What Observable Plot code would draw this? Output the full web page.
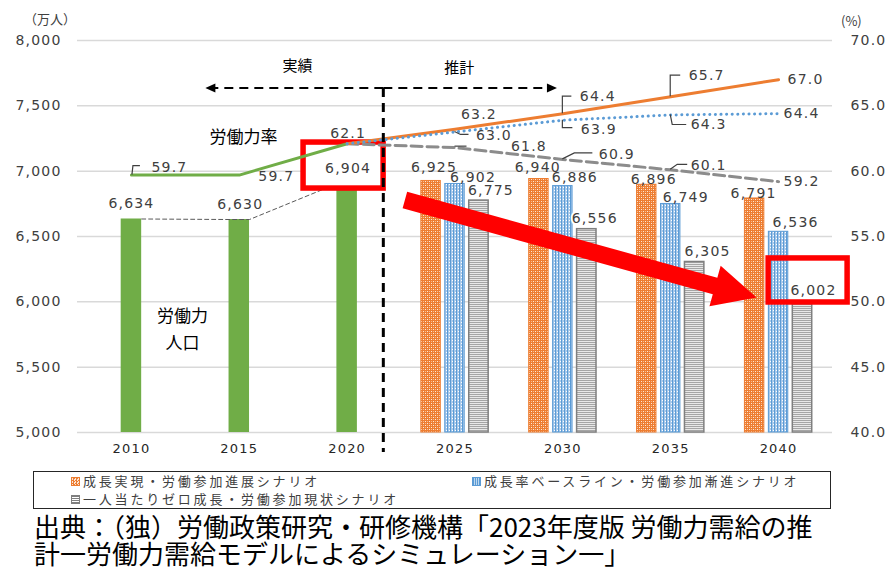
<!DOCTYPE html>
<html><head><meta charset="utf-8">
<script src="https://cdn.jsdelivr.net/npm/d3@7"></script>
<script src="https://cdn.jsdelivr.net/npm/@observablehq/plot@0.6"></script>
<style>
body{margin:0;width:888px;height:568px;position:relative;overflow:hidden;background:#fff;font-family:"Noto Sans CJK JP",sans-serif;}
#topbar{position:absolute;left:11px;top:0;width:439px;height:6px;background:#00703c;}
#chart{position:absolute;left:0;top:0;}
#chart svg .num text, #chart svg text.num{letter-spacing:1.2px}
.unit{position:absolute;font-size:13px;color:#404040;line-height:16px;}
#legend{position:absolute;left:33px;top:471px;width:798px;height:38px;border:1px solid #262626;box-sizing:border-box;font-size:13px;color:#404040;}
#legend .it{position:absolute;white-space:nowrap;line-height:18px;letter-spacing:2.8px;}
#legend .sw{display:inline-block;width:9px;height:9px;margin-right:3px;vertical-align:0px;box-sizing:border-box;}
#caption{position:absolute;left:34px;top:512px;font-size:26px;line-height:27px;color:#000;white-space:nowrap;}
</style></head>
<body>
<div id="topbar"></div>
<div id="chart"></div>
<div class="unit" style="left:24px;top:11px;">（万人）</div>
<div class="unit" style="left:841px;top:13px;">(%)</div>
<div id="legend">
  <div class="it" style="left:37px;top:0px;"><span class="sw" style="background:repeating-conic-gradient(#ed7d31 0 25%,#fbe5d6 0 50%) 0 0/3px 3px;border:1px solid #ed7d31"></span>成長実現・労働参加進展シナリオ</div>
  <div class="it" style="left:438px;top:0px;"><span class="sw" style="background:repeating-linear-gradient(90deg,#5b9bd5 0 1px,#bdd7ee 1px 2px);border:1px solid #5b9bd5"></span>成長率ベースライン・労働参加漸進シナリオ</div>
  <div class="it" style="left:37px;top:18px;"><span class="sw" style="background:repeating-linear-gradient(0deg,#7f7f7f 0 1px,#fff 1px 2px);border:1px solid #7f7f7f"></span>一人当たりゼロ成長・労働参加現状シナリオ</div>
</div>
<div id="caption">出典：（独）労働政策研究・研修機構「2023年度版 労働力需給の推<br>計一労働力需給モデルによるシミュレーション一」</div>
<script>
// ---- data ----
const histYears = [2010, 2015, 2020];
const histPop = [6634, 6630, 6904];
const projYears = [2025, 2030, 2035, 2040];
const popGrowth = [6925, 6940, 6896, 6791];
const popBase = [6902, 6886, 6749, 6536];
const popZero = [6775, 6556, 6305, 6002];
const rateHist = [59.7, 59.7, 62.1];
const rateYears = [2020, 2025, 2030, 2035, 2040];
const rateGrowth = [62.1, 63.2, 64.4, 65.7, 67.0];
const rateBase = [62.1, 63.0, 63.9, 64.3, 64.4];
const rateZero = [62.1, 61.8, 60.9, 60.1, 59.2];
const xTicks = [2010, 2015, 2020, 2025, 2030, 2035, 2040];
const leftTicks = [5000, 5500, 6000, 6500, 7000, 7500, 8000];
const rightTicks = [40, 45, 50, 55, 60, 65, 70];

// ---- layout helpers ----
const yMin = 5000, yMax = 8000, pMin = 40;
const toLeft = p => yMin + (p - pMin) * 100; // secondary axis mapping (40–70% ↔ 5000–8000)
const sp = 1.11, wHist = 0.95, wProj = 0.9;
const fmt = d3.format(",");

const histRows = histYears.map((yr, i) => ({year: yr, off: 0, value: histPop[i]}));
const growthRows = projYears.map((yr, i) => ({year: yr, off: -1, value: popGrowth[i]}));
const baseRows = projYears.map((yr, i) => ({year: yr, off: 0, value: popBase[i]}));
const zeroRows = projYears.map((yr, i) => ({year: yr, off: 1, value: popZero[i]}));

// bar label offsets (px)
const histLabelDx = [0, 1, 1], histLabelDy = [-15, -15, -15];
const growthDx = [3, -1, 7, -1], growthDy = [-13, -11, -5, -5];
const baseDx = [18, 12, 15, 17], baseDy = [-6, -9, -6, -9];
const zeroDx = [12, 8, 13, 11], zeroDy = [-10, -11, -10, -11];

const rateHistRows = histYears.map((yr, i) => ({year: yr, v: rateHist[i]}));
const mk = arr => rateYears.map((yr, i) => ({year: yr, v: arr[i]}));
const growthLine = mk(rateGrowth), baseLine = mk(rateBase), zeroLine = mk(rateZero);

// rate label placement: [rows, index, dx, dy, anchor]
const rateLabels = [
  [rateHistRows, 0, 20, -8, "start"],
  [rateHistRows, 1, 19, 1, "start"],
  [rateHistRows, 2, 1, -10, "middle"],
  [growthLine, 1, 6, -15, "start"],
  [growthLine, 2, 17, -17, "start"],
  [growthLine, 3, 18, -21, "start"],
  [growthLine, 4, 9, 0, "start"],
  [baseLine, 1, 21, 4, "start"],
  [baseLine, 2, 18, 9, "start"],
  [baseLine, 3, 20, 10, "start"],
  [baseLine, 4, 5, 0, "start"],
  [zeroLine, 1, 56, -1, "start"],
  [zeroLine, 2, 36, -5, "start"],
  [zeroLine, 3, 20, -4, "start"],
  [zeroLine, 4, 5, 0, "start"]
];
const leaders = [
  [rateHistRows, 0, [[1,0],[2,-9],[9,-9]]],
  [growthLine, 2, [[0,0],[0,-17],[9,-17]]],
  [growthLine, 3, [[0,0],[0,-21],[10,-21]]],
  [baseLine, 1, [[0,0],[6,3],[14,3]]],
  [baseLine, 2, [[0,0],[0,8],[10,8]]],
  [baseLine, 3, [[0,0],[2,10],[16,10]]],
  [zeroLine, 1, [[0,-1],[12,-1]]],
  [zeroLine, 2, [[0,0],[12,-6],[30,-6]]],
  [zeroLine, 3, [[0,0],[7,-5],[17,-5]]]
];

// annotations (data units)
const periodDivider = 2021.7, periodArrowY = 7632, actualEnd = 2013.45, projEnd = 2029.75;
const periodTexts = [{x: 2017.7, y: 7800, t: "実績"}, {x: 2025.2, y: 7790, t: "推計"}];
const boxes = [
  {x1: 2017.98, x2: 2021.69, y1: 6867, y2: 7219, fill: "white"},
  {x1: 2039.54, x2: 2043.2, y1: 5995, y2: 6332, fill: "none"}
];
const bigArrow = {x1: 2022.7, y1: 6775, x2: 2039.0, y2: 6030};
const rateTitle = {x: 2015.2, y: 7258, t: "労働力率"};
const popTitle = {x: 2012.37, y: 5811, t: "労働力\n人口"};

const numStyle = {fontFamily: "DejaVu Sans", fontSize: 14, fill: "#404040"};

function rectMark(rows, w, fill, stroke, sw) {
  return Plot.rect(rows, {
    x1: d => d.year + d.off * sp - w / 2,
    x2: d => d.year + d.off * sp + w / 2,
    y1: () => yMin, y2: "value", fill, stroke, strokeWidth: sw
  });
}
function barLabels(rows, dxs, dys, extra = {}) {
  return rows.map((d, i) => Plot.text([d], {
    x: d => d.year + d.off * sp, y: "value", text: d => fmt(d.value),
    dx: dxs[i], dy: dys[i], ...numStyle, className: "num", ...extra
  }));
}

const boxesMark = (index, {x, y}) => {
  const g = d3.create("svg:g");
  for (const b of boxes) {
    g.append("rect").attr("x", x(b.x1)).attr("y", y(b.y2))
      .attr("width", x(b.x2) - x(b.x1)).attr("height", y(b.y1) - y(b.y2))
      .attr("fill", b.fill).attr("stroke", "#ff0000").attr("stroke-width", 5.5);
  }
  return g.node();
};
const leadersMark = (index, {x, y}) => {
  const g = d3.create("svg:g");
  for (const [rows, i, path] of leaders) {
    const px = x(rows[i].year), py = y(toLeft(rows[i].v));
    g.append("path").attr("d", d3.line()(path.map(([a, b]) => [px + a, py + b])))
      .attr("fill", "none").attr("stroke", "#404040").attr("stroke-width", 1.2);
  }
  return g.node();
};
const periodMark = (index, {x, y}) => {
  const g = d3.create("svg:g");
  const xd = x(periodDivider), ya = y(periodArrowY), yb = y(yMin) + 20;
  g.append("line").attr("x1", xd).attr("x2", xd).attr("y1", ya).attr("y2", yb)
    .attr("stroke", "#000").attr("stroke-width", 3).attr("stroke-dasharray", "9 6");
  const xl = x(actualEnd), xr = x(projEnd);
  g.append("line").attr("x1", xd).attr("x2", xl + 9).attr("y1", ya).attr("y2", ya)
    .attr("stroke", "#000").attr("stroke-width", 2).attr("stroke-dasharray", "9 6");
  g.append("path").attr("d", `M${xl},${ya}L${xl + 10},${ya - 4.5}L${xl + 10},${ya + 4.5}Z`).attr("fill", "#000");
  g.append("line").attr("x1", xd).attr("x2", xr - 9).attr("y1", ya).attr("y2", ya)
    .attr("stroke", "#000").attr("stroke-width", 2).attr("stroke-dasharray", "9 6");
  g.append("path").attr("d", `M${xr},${ya}L${xr - 10},${ya - 4.5}L${xr - 10},${ya + 4.5}Z`).attr("fill", "#000");
  return g.node();
};
const arrowMark = (index, {x, y}) => {
  const S = [x(bigArrow.x1), y(bigArrow.y1)], T = [x(bigArrow.x2), y(bigArrow.y2)];
  const L = Math.hypot(T[0] - S[0], T[1] - S[1]);
  const u = [(T[0] - S[0]) / L, (T[1] - S[1]) / L], n = [-u[1], u[0]];
  const hw = 8.5, hl = 43, hh = 21;
  const B = [T[0] - u[0] * hl, T[1] - u[1] * hl];
  const P = (p, k) => [p[0] + n[0] * k, p[1] + n[1] * k];
  const pts = [P(S, hw), P(B, hw), P(B, hh), T, P(B, -hh), P(B, -hw), P(S, -hw)];
  const g = d3.create("svg:g");
  g.append("path").attr("d", "M" + pts.map(p => p.join(",")).join("L") + "Z").attr("fill", "#ff0000");
  return g.node();
};

const chart = Plot.plot({
  width: 888, height: 465,
  marginLeft: 77, marginRight: 56, marginTop: 40, marginBottom: 33,
  x: {type: "linear", domain: [2007.5, 2042.5]},
  y: {domain: [yMin, yMax]},
  style: {fontFamily: "DejaVu Sans", background: "white", overflow: "visible"},
  marks: [
    Plot.gridY(leftTicks, {stroke: "#d9d9d9", strokeOpacity: 1, strokeWidth: 1.5}),
    Plot.axisY(leftTicks, {anchor: "left", tickFormat: fmt, tickSize: 0, tickPadding: 16, fontSize: 14, fill: "#404040", label: null, className: "num"}),
    Plot.axisY(rightTicks.map(toLeft), {anchor: "right", tickFormat: v => ((v - yMin) / 100 + pMin).toFixed(1), tickSize: 0, tickPadding: 18, fontSize: 14, fill: "#404040", label: null, className: "num"}),
    Plot.axisX(xTicks, {tickFormat: d => String(d), tickSize: 0, tickPadding: 11, fontSize: 13, fill: "#262626", label: null, className: "num"}),
    rectMark(histRows, wHist, "#70ad47", "none", 0),
    rectMark(growthRows, wProj, "url(#pOrange)", "#ed7d31", 1),
    rectMark(baseRows, wProj, "url(#pBlue)", "#5b9bd5", 1),
    rectMark(zeroRows, wProj, "url(#pGray)", "#7f7f7f", 1.5),
    Plot.line([
      {x: histRows[0].year + wHist / 2, y: histRows[0].value},
      {x: histRows[1].year - wHist / 2, y: histRows[1].value},
      {x: histRows[1].year + wHist / 2, y: histRows[1].value},
      {x: histRows[2].year - wHist / 2, y: histRows[2].value}
    ], {x: "x", y: "y", stroke: "#595959", strokeWidth: 1, strokeDasharray: "4 3"}),
    boxesMark,
    Plot.line(rateHistRows, {x: "year", y: d => toLeft(d.v), stroke: "#70ad47", strokeWidth: 3}),
    Plot.line(zeroLine, {x: "year", y: d => toLeft(d.v), stroke: "#8c8c8c", strokeWidth: 3, strokeDasharray: "11 5"}),
    Plot.line(growthLine, {x: "year", y: d => toLeft(d.v), stroke: "#ed7d31", strokeWidth: 3}),
    Plot.line(baseLine, {x: "year", y: d => toLeft(d.v), stroke: "#5b9bd5", strokeWidth: 3, strokeDasharray: "0.1 5.5", strokeLinecap: "round"}),
    leadersMark,
    ...barLabels(histRows, histLabelDx, histLabelDy),
    ...barLabels(growthRows, growthDx, growthDy),
    ...barLabels(baseRows, baseDx, baseDy),
    ...barLabels(zeroRows, zeroDx, zeroDy, {stroke: "white", strokeWidth: 4}),
    ...rateLabels.map(([rows, i, dx, dy, anchor]) => Plot.text([rows[i]], {
      x: "year", y: d => toLeft(d.v), text: d => d.v.toFixed(1), dx, dy, textAnchor: anchor, ...numStyle, className: "num"
    })),
    periodMark,
    Plot.text(periodTexts, {x: "x", y: "y", text: "t", fontFamily: "Noto Sans CJK JP", fontSize: 15, fill: "#000"}),
    Plot.text([rateTitle], {x: "x", y: "y", text: "t", fontFamily: "Noto Sans CJK JP", fontSize: 17, fill: "#000"}),
    Plot.text([popTitle], {x: "x", y: "y", text: "t", fontFamily: "Noto Sans CJK JP", fontSize: 17, fill: "#000", lineHeight: 1.6}),
    arrowMark
  ]
});

const defs = d3.select(chart).insert("defs", ":first-child");
const po = defs.append("pattern").attr("id", "pOrange").attr("patternUnits", "userSpaceOnUse").attr("width", 4).attr("height", 4);
po.append("rect").attr("width", 4).attr("height", 4).attr("fill", "#ed7d31");
po.append("rect").attr("x", 1).attr("y", 1).attr("width", 1).attr("height", 1).attr("fill", "#fde9d9");
po.append("rect").attr("x", 3).attr("y", 3).attr("width", 1).attr("height", 1).attr("fill", "#fde9d9");
po.append("rect").attr("x", 3).attr("y", 1).attr("width", 1).attr("height", 1).attr("fill", "#f6b98f");
po.append("rect").attr("x", 1).attr("y", 3).attr("width", 1).attr("height", 1).attr("fill", "#f6b98f");
const pb = defs.append("pattern").attr("id", "pBlue").attr("patternUnits", "userSpaceOnUse").attr("width", 3).attr("height", 3);
pb.append("rect").attr("width", 3).attr("height", 3).attr("fill", "#a9c9ea");
pb.append("rect").attr("width", 1).attr("height", 3).attr("fill", "#5b9bd5");
pb.append("rect").attr("x", 2).attr("y", 1).attr("width", 1).attr("height", 1).attr("fill", "#ffffff");
const pg = defs.append("pattern").attr("id", "pGray").attr("patternUnits", "userSpaceOnUse").attr("width", 3).attr("height", 2);
pg.append("rect").attr("width", 3).attr("height", 2).attr("fill", "#e8e8e8");
pg.append("rect").attr("width", 3).attr("height", 1).attr("fill", "#a5a5a5");

document.getElementById("chart").appendChild(chart);
</script>
</body></html>
